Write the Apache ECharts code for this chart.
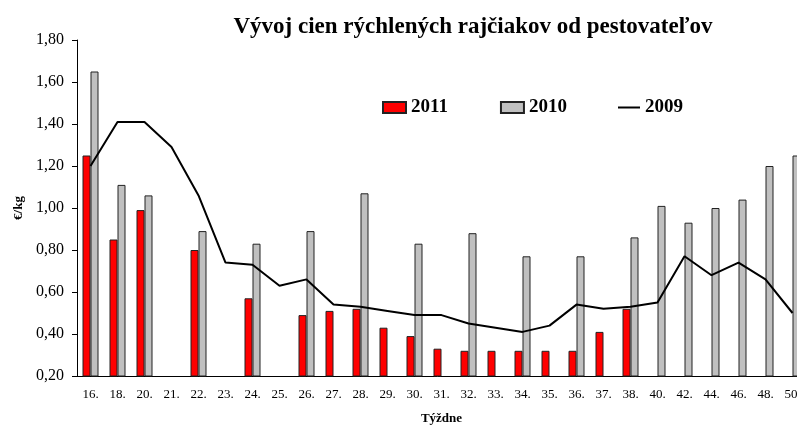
<!DOCTYPE html>
<html>
<head>
<meta charset="utf-8">
<script src="https://cdn.jsdelivr.net/npm/echarts@6/dist/echarts.min.js"></script>
<style>
    html,body{margin:0;padding:0;background:#fff;}
    #chart{width:797px;height:426px;}
</style>
</head>
<body>
<div id="chart"></div>
<script>
    // týždne
    var weeks=['16.','18.','20.','21.','22.','23.','24.','25.','26.','27.','28.','29.','30.','31.','32.','33.','34.','35.','36.','37.','38.','40.','42.','44.','46.','48.','50.'];
    var y2011=[1.25,0.85,0.99,null,0.80,null,0.57,null,0.49,0.51,0.52,0.43,0.39,0.33,0.32,0.32,0.32,0.32,0.32,0.41,0.52,null,null,null,null,null,null];
    var y2010=[1.65,1.11,1.06,null,0.89,null,0.83,null,0.89,null,1.07,null,0.83,null,0.88,null,0.77,null,0.77,null,0.86,1.01,0.93,1.00,1.04,1.20,1.25];
    var y2009=[1.20,1.41,1.41,1.29,1.06,0.74,0.73,0.63,0.66,0.54,0.53,0.51,0.49,0.49,0.45,0.43,0.41,0.44,0.54,0.52,0.53,0.55,0.77,0.68,0.74,0.66,0.50];

    var font='"Liberation Serif","DejaVu Serif",serif';
    var legendText={fontFamily:font,fontSize:19,fontWeight:'bold',color:'#000'};
    var chart=echarts.init(document.getElementById('chart'));
    var option={
        animation:false,
        backgroundColor:'#fff',
        title:{
            text:'Vývoj cien rýchlených rajčiakov od pestovateľov',
            left:468,
            textAlign:'center',
            top:11,
            textStyle:{fontFamily:font,fontSize:23,fontWeight:'bold',color:'#000'}
        },
        legend:[
            {
                left:382,
                top:98,
                padding:0,
                itemWidth:23,
                itemHeight:11,
                itemGap:52,
                icon:'rect',
                textStyle:legendText,
                data:['2011','2010']
            },
            {
                left:618,
                top:98,
                padding:0,
                itemWidth:22,
                itemHeight:2,
                icon:'rect',
                textStyle:legendText,
                data:['2009']
            }
        ],
        grid:{left:77,right:-9,top:40,bottom:50,containLabel:false,outerBoundsMode:'none'},
        xAxis:{
            type:'category',
            data:weeks,
            name:'Týždne',
            nameLocation:'middle',
            nameGap:36,
            nameTextStyle:{fontFamily:font,fontSize:13,fontWeight:'bold',color:'#000'},
            axisLine:{lineStyle:{color:'#000',width:1}},
            axisTick:{length:5,lineStyle:{color:'#000'}},
            axisLabel:{fontFamily:font,fontSize:13,color:'#000',margin:12,interval:0}
        },
        yAxis:{
            type:'value',
            min:0.2,
            max:1.8,
            interval:0.2,
            name:'€/kg',
            nameLocation:'middle',
            nameGap:52,
            nameRotate:90,
            nameTextStyle:{fontFamily:font,fontSize:13,fontWeight:'bold',color:'#000'},
            axisLine:{show:true,lineStyle:{color:'#000',width:1}},
            axisTick:{show:true,length:5,lineStyle:{color:'#000'}},
            splitLine:{show:false},
            axisLabel:{
                fontFamily:font,fontSize:16,color:'#000',margin:13,
                formatter:function(v){return v.toFixed(2).replace('.',',');}
            }
        },
        series:[
            {
                name:'2011',
                type:'bar',
                data:y2011,
                barWidth:8,
                barGap:'0%',
                itemStyle:{color:'#ff0000',borderColor:'#222',borderWidth:1}
            },
            {
                name:'2010',
                type:'bar',
                data:y2010,
                barWidth:8,
                barGap:'0%',
                itemStyle:{color:'#c0c0c0',borderColor:'#222',borderWidth:1}
            },
            {
                name:'2009',
                type:'line',
                data:y2009,
                symbol:'none',
                lineStyle:{color:'#000',width:2},
                itemStyle:{color:'#000'}
            }
        ]
    };
    chart.setOption(option);
    window.addEventListener('resize',chart.resize);
</script>
</body>
</html>
